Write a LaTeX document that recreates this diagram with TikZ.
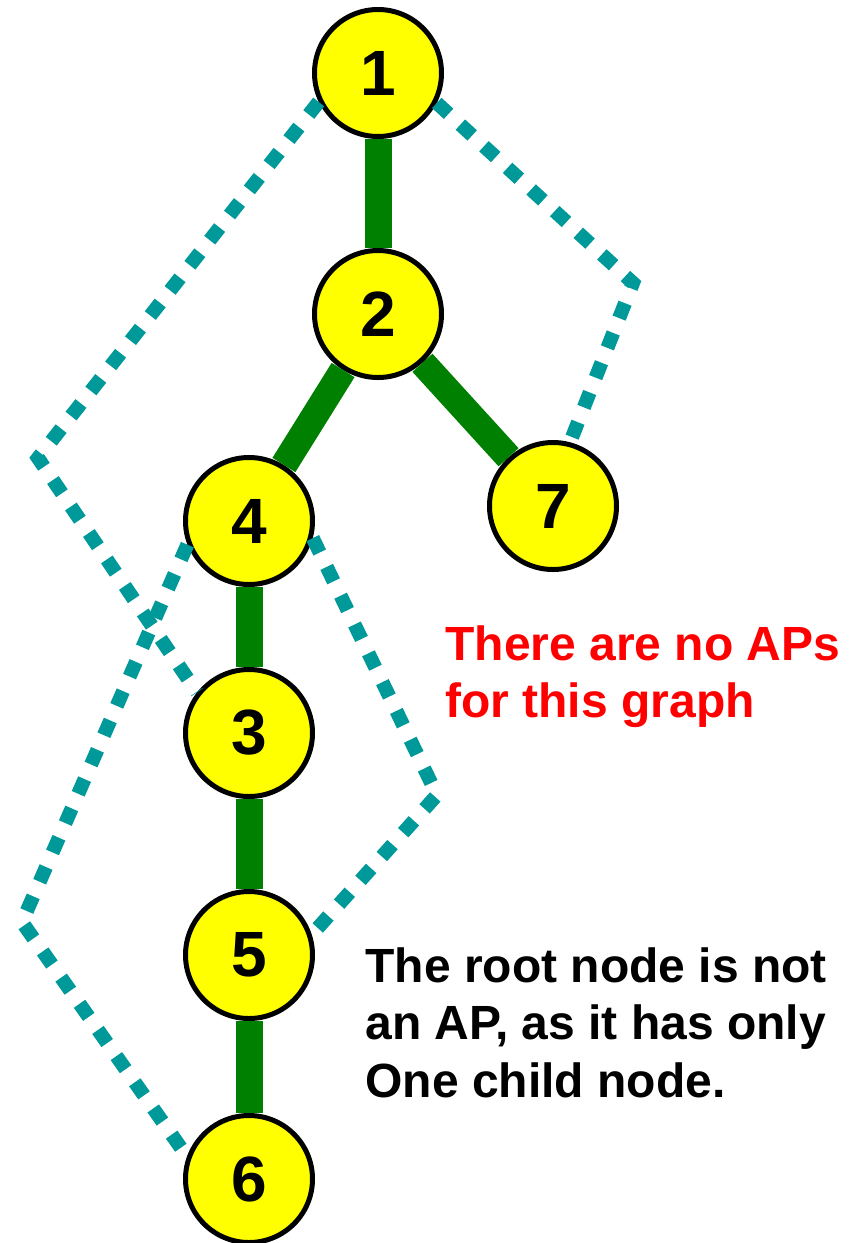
\documentclass[tikz,border=0pt]{standalone}
\usepackage{fontspec}
\setmainfont{Liberation Sans}
\usepackage{tikz}
\usetikzlibrary{positioning}
\definecolor{DFSAmarillo}{HTML}{FFFF00}
\definecolor{DFSVerde}{HTML}{008000}
\definecolor{DFSTurquesa}{HTML}{009999}
\definecolor{DFSRojo}{HTML}{FF0000}

\begin{document}
\begin{tikzpicture}[x=0.5pt,y=-0.5pt,
 vtx/.style={circle,draw=black,line width=2.5pt,fill=DFSAmarillo,minimum size=63.5pt,inner sep=0pt,font=\fontsize{32}{32}\selectfont\bfseries},
 arbol/.style={draw=DFSVerde,line width=13.5pt},
 retro/.style={draw=DFSTurquesa,line width=7pt,dash pattern=on 8pt off 8pt},
 nota/.style={align=left,anchor=north west,inner sep=0pt,font=\fontsize{24}{28.75}\selectfont\bfseries}]
\useasboundingbox (0,0) rectangle (859,1243);
\node[vtx] (v1) at (378,73) {1};
\node[vtx] (v2) at (378,314) {2};
\node[vtx] (v4) at (249,521) {4};
\node[vtx] (v7) at (553,506) {7};
\node[vtx] (v3) at (249,733) {3};
\node[vtx] (v5) at (249,955) {5};
\node[vtx] (v6) at (249,1179) {6};
% aristas del arbol DFS
\draw[arbol] (v1)--(v2);\draw[arbol] (v2)--(v4);\draw[arbol] (v2)--(v7);
\draw[arbol] (v4)--(v3);\draw[arbol] (v3)--(v5);\draw[arbol] (v5)--(v6);
% aristas de retroceso
\coordinate (k13) at (38,458);
\coordinate (k17) at (633,283);
\coordinate (k46) at (22,922);
\coordinate (k45) at (437,795);
\draw[retro] (v1.206)--(k13)--(v3.142);
\draw[retro] (v1.-27)--(k17)--(v7.75);
\draw[retro] (v4.201)--(k46)--(v6.160);
\draw[retro] (v4.-15)--(k45)--(v5.18);
\node[nota,text=DFSRojo] (sinap) at (445,625) {There are no APs\\for this graph};
\node[nota] (raiz) at (365,947) {The root node is not\\an AP, as it has only\\One child node.};
\end{tikzpicture}
\end{document}
